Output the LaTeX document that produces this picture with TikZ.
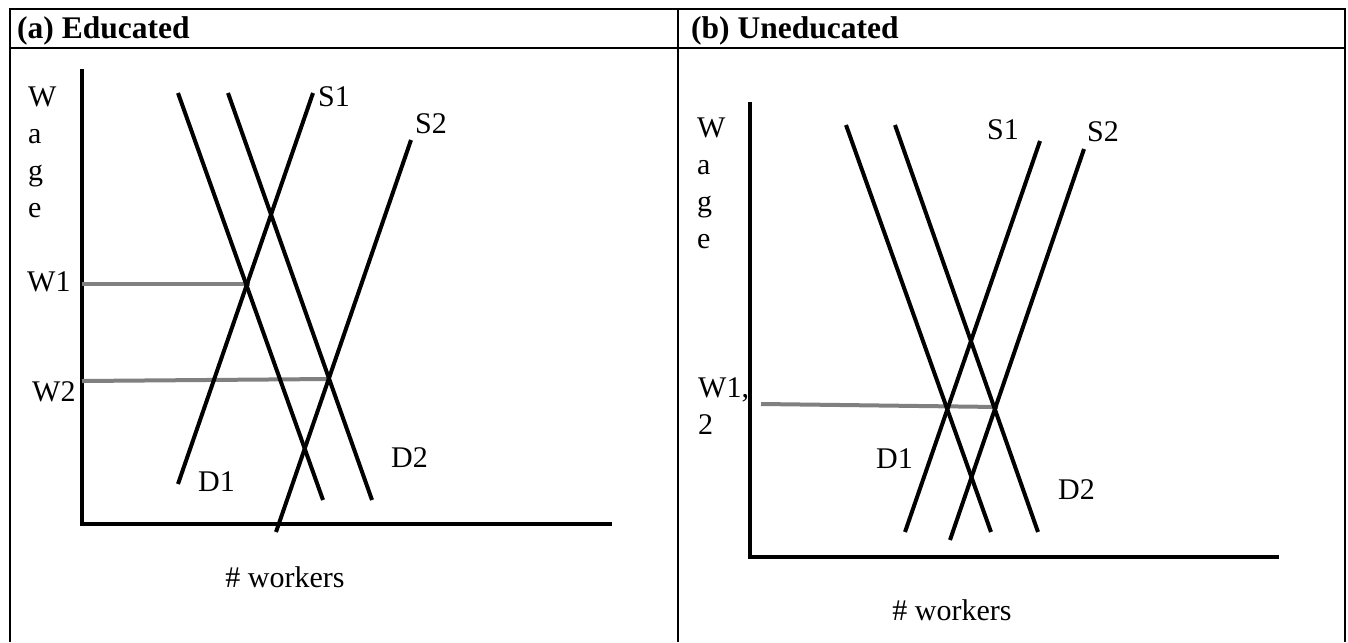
\documentclass[tikz,border=0pt]{standalone}
\usepackage{fontspec}
\setmainfont{Liberation Serif}
\usetikzlibrary{positioning}

\tikzset{
  frame/.style={line width=2.5pt},
  axis/.style={line width=4.5pt},
  curve/.style={line width=4pt},
  wageline/.style={line width=4pt, color=gray},
  lbl/.style={font=\fontsize{30}{37}\selectfont, inner sep=0pt},
  head/.style={lbl, font=\fontsize{31.5}{37}\selectfont\bfseries},
}

\begin{document}
\begin{tikzpicture}[x=1pt,y=-1pt]
		
		\useasboundingbox (0,0) rectangle (1348,642);
		
		% table
		\draw[frame] (10,642) -- (10,9) -- (1345,9) -- (1345,642);
		\draw[frame] (10,48) -- (1345,48);
		\draw[frame] (678,9) -- (678,642);
		
		\node[head, anchor=base west] (heada) at (17,38) {(a) Educated};
		\node[head, anchor=base west] (headb) at (691,38) {(b) Uneducated};
		
		% (a) educated
		\coordinate (Ya) at (82,69);
		\coordinate (Oa) at (82,524);
		\coordinate (Xa) at (612,524);
		
		\coordinate (D1a) at (178,93);   \coordinate (D1a') at (323,500);
		\coordinate (D2a) at (228,93);   \coordinate (D2a') at (372,500);
		\coordinate (S1a) at (313,93);   \coordinate (S1a') at (178,484);
		\coordinate (S2a) at (411,140);  \coordinate (S2a') at (276,532);
		
		\draw[axis] (Ya)--(Oa)--(Xa);
		\draw[wageline] (82,284) -- (250,284);
		\draw[wageline] (82,381) -- (330,379);
		\draw[curve] (D1a)--(D1a');
		\draw[curve] (D2a)--(D2a');
		\draw[curve] (S1a)--(S1a');
		\draw[curve] (S2a)--(S2a');
		
		\node[lbl, anchor=north west, align=left] (wagea) at (28,87) {W\\a\\g\\e};
		\node[lbl, anchor=west] (w1a) at (27,282) {W1};
		\node[lbl, anchor=west] (w2a) at (32,392) {W2};
		\node[lbl, anchor=west] (s1a) at (318,97) {S1};
		\node[lbl, anchor=west] (s2a) at (415,124) {S2};
		\node[lbl, anchor=west] (d1a) at (198,482) {D1};
		\node[lbl, anchor=west] (d2a) at (391,458) {D2};
		\node[lbl] (xa) at (285,577) {\# workers};
		
		% (b) uneducated
		\coordinate (Yb) at (750,102);
		\coordinate (Ob) at (750,557);
		\coordinate (Xb) at (1279,557);
		
		\coordinate (D1b) at (846,125);  \coordinate (D1b') at (991,532);
		\coordinate (D2b) at (895,125);  \coordinate (D2b') at (1038,532);
		\coordinate (S1b) at (1040,141); \coordinate (S1b') at (905,532);
		\coordinate (S2b) at (1084,149); \coordinate (S2b') at (950,540);
		
		\draw[axis] (Yb)--(Ob)--(Xb);
		\draw[wageline] (761,404) -- (998,407);
		\draw[curve] (D1b)--(D1b');
		\draw[curve] (D2b)--(D2b');
		\draw[curve] (S1b)--(S1b');
		\draw[curve] (S2b)--(S2b');
		
		\node[lbl, anchor=north west, align=left] (wageb) at (697,118) {W\\a\\g\\e};
		\node[lbl, anchor=north west, align=left] (w12b) at (698,377) {W1,\\2};
		\node[lbl, anchor=west] (s1b) at (987,130) {S1};
		\node[lbl, anchor=west] (s2b) at (1087,132) {S2};
		\node[lbl, anchor=west] (d1b) at (876,459) {D1};
		\node[lbl, anchor=west] (d2b) at (1058,490) {D2};
		\node[lbl] (xb) at (952,610) {\# workers};
		
	\end{tikzpicture}
\end{document}
